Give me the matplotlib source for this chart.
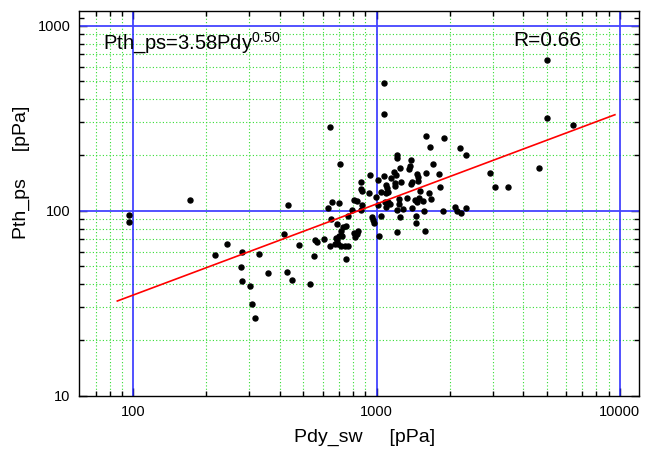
import matplotlib
matplotlib.use("Agg")
import matplotlib.pyplot as plt
import numpy as np

plt.rcParams["font.family"] = ["Liberation Sans", "DejaVu Sans"]
plt.rcParams["mathtext.fontset"] = "custom"
plt.rcParams["mathtext.rm"] = "Liberation Sans"

# Pdy_sw [pPa]
pdy = [
    96, 96, 171, 217, 242, 279, 330, 277, 280, 302, 358, 307, 318, 429, 451, 534,
    418, 434, 481, 551, 558, 569, 606, 629, 654, 699, 652, 690, 641, 677, 695, 715,
    743, 761, 679, 699, 688, 715, 722, 726, 750, 750, 764, 794, 807, 815, 831, 839,
    810, 828, 710, 644, 867, 863, 870, 870, 864, 943, 933, 954, 969, 979, 998, 1010,
    1010, 1026, 1045, 1042, 1071, 1079, 1089, 1097, 1089, 1103, 1118, 1137, 1145, 1181,
    1200, 1192, 1189, 1209, 1209, 1233, 1233, 1254, 1260, 1212, 1247, 1213, 1289, 1330,
    1369, 1365, 1382, 1395, 1382, 1402, 1473, 1484, 1484, 1506, 1496, 1440, 1473, 1560,
    1454, 1447, 1569, 1584, 1597, 1595, 1640, 1664, 1671, 1712, 1799, 1818, 1881, 1893,
    2110, 2141, 2230, 2325, 2209, 2336, 2939, 3083, 3465, 4670, 5025, 5025, 6436, 1072,
    1072, 1116,
]
# Pth_ps [pPa]
pth = [
    94.8, 86.9, 114.9, 57.6, 66.0, 59.5, 58.6, 49.4, 41.9, 39.4, 46.0, 31.5, 26.3, 46.6,
    42.4, 40.0, 74.7, 107.1, 65.2, 56.6, 69.7, 68.0, 70.2, 103.7, 111.1, 109.7, 89.7, 84.6,
    64.4, 66.3, 66.0, 64.7, 64.7, 64.4, 71.4, 73.2, 69.1, 77.5, 72.6, 81.5, 82.5, 54.8,
    93.9, 101.1, 75.8, 72.1, 74.4, 77.7, 114.6, 112.8, 178.6, 281.9, 143.2, 131.3, 127.4,
    107.7, 100.9, 155.8, 125.0, 91.9, 88.5, 85.3, 118.8, 146.4, 106.7, 73.0, 126.9, 93.9,
    154.5, 111.7, 138.5, 124.9, 105.3, 132.2, 111.1, 108.0, 150.4, 162.7, 155.2, 141.4,
    136.7, 200.4, 191.9, 115.6, 109.3, 169.9, 143.2, 100.5, 92.1, 76.3, 102.4, 117.4,
    173.8, 168.2, 188.1, 143.7, 139.6, 103.7, 158.1, 151.5, 145.5, 128.5, 117.4, 114.0,
    111.1, 112.1, 93.4, 85.5, 99.3, 78.0, 159.7, 253.7, 125.3, 219.7, 115.6, 179.7, 158.3,
    134.5, 99.4, 247.2, 104.4, 99.4, 96.9, 103.4, 218.3, 200.4, 160.7, 134.5, 133.8, 169.5,
    655.8, 316.0, 290.4, 492.8, 333.4, 126.2,
]

# regression line
fit_x = [86, 9550]
fit_y = [32.5, 330]

fig = plt.figure(figsize=(6.51, 4.49), dpi=100)
ax = fig.add_axes([0.1218, 0.1187, 0.8598, 0.8568])
ax.set_xscale("log")
ax.set_yscale("log")
ax.set_xlim(60, 12000)
ax.set_ylim(10, 1200)

# green dotted grid on the minor decades, blue lines on the majors
minor_x = [m * d for d in (10, 100, 1000) for m in range(2, 10) if 60 < m * d < 12000]
minor_y = [m * d for d in (10, 100) for m in range(2, 10)]
for v in minor_x:
    ax.axvline(v, color="#33dd33", lw=0.8, ls=(0, (1, 2)), zorder=1)
for v in minor_y:
    ax.axhline(v, color="#33dd33", lw=0.8, ls=(0, (1, 2)), zorder=1)
for v in (100, 1000, 10000):
    ax.axvline(v, color="#2222ff", lw=1.1, zorder=2)
for v in (100, 1000):
    ax.axhline(v, color="#4444ff", lw=1.3, zorder=2)

ax.plot(pdy, pth, "o", color="black", markersize=3.6, zorder=4)
ax.plot(fit_x, fit_y, color="red", lw=1.2, zorder=5)

ax.set_xticks([100, 1000, 10000])
ax.set_xticklabels(["100", "1000", "10000"])
ax.set_yticks([10, 100, 1000])
ax.set_yticklabels(["10", "100", "1000"])
ax.set_xticks(minor_x, minor=True)
ax.set_yticks(minor_y + [1100], minor=True)
ax.xaxis.set_minor_formatter(plt.NullFormatter())
ax.yaxis.set_minor_formatter(plt.NullFormatter())
ax.tick_params(which="both", direction="in", top=True, right=True, colors="black",
               labelsize=10.5, width=1.0)
ax.tick_params(which="major", length=6)
ax.tick_params(which="minor", length=3.5)
ax.tick_params(axis="x", pad=7)
ax.tick_params(axis="y", pad=6.5)
for s in ax.spines.values():
    s.set_linewidth(1.0)
    s.set_zorder(6)

ax.set_xlabel("Pdy_sw     [pPa]", fontsize=14)
ax.set_ylabel("Pth_ps     [pPa]", fontsize=14)
ax.xaxis.set_label_coords(0.51, -0.085)
ax.yaxis.set_label_coords(-0.088, 0.58)

ax.text(0.0423, 0.8986, r"Pth_ps=3.58Pdy$^{0.50}$", transform=ax.transAxes,
        fontsize=14.5, ha="left", va="baseline")
ax.text(0.775, 0.9079, "R=0.66", transform=ax.transAxes, fontsize=15,
        ha="left", va="baseline")

fig.savefig("out.png", dpi=100)
